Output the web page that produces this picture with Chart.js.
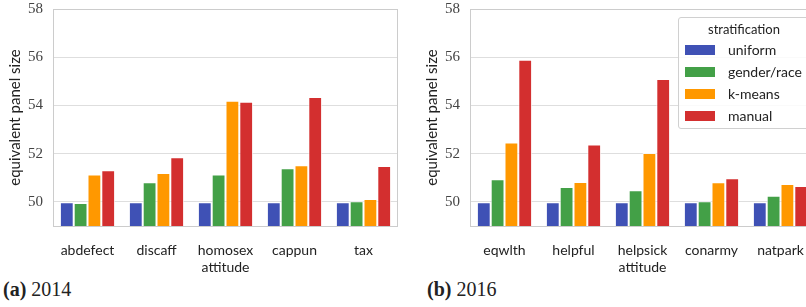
<!DOCTYPE html>
<html>
<head>
<meta charset="utf-8">
<script src="https://cdn.jsdelivr.net/npm/chart.js@4.4.0/dist/chart.umd.min.js"></script>
<style>
html, body { margin: 0; padding: 0; background: #fff; overflow: hidden; width: 806px; height: 307px; }
.panel { position: absolute; top: 0; }
#panelA { left: 0; }
#panelB { left: 417px; }
.caption { position: absolute; top: 278px; font-family: "Liberation Serif", "DejaVu Serif", serif; font-size: 20px; color: #222; }
#legend {
    position: absolute; left: 678px; top: 17px; width: 160px; height: 110px;
    border: 1px solid #d0d0d0; border-radius: 3px; background: rgba(255,255,255,0.85);
    font-family: Lato, sans-serif; font-size: 14px; color: #222;
}
#legend .title { position: absolute; left: 0; width: 130px; top: 3px; text-align: center; font-size: 13px; }
#legend .row { position: absolute; left: 6px; height: 16px; line-height: 16px; }
#legend .sw { position: absolute; left: 0; top: 3px; width: 30px; height: 10px; }
#legend .lbl { position: absolute; left: 43px; white-space: nowrap; }
</style>
</head>
<body>
<div class="panel" id="panelA"><canvas id="chartA" width="400" height="272"></canvas></div>
<div class="panel" id="panelB"><canvas id="chartB" width="400" height="272"></canvas></div>
<div class="caption" style="left:3px"><b>(a)</b> 2014</div>
<div class="caption" style="left:427px"><b>(b)</b> 2016</div>
<div id="legend"></div>
<script>
const methods = ["uniform", "gender/race", "k-means", "manual"];
const colors = ["#3f51b5", "#43a047", "#ff9800", "#d32f2f"];

const groups2014 = ["abdefect", "discaff", ["homosex", "attitude"], "cappun", "tax"];
const uniform2014 = [49.98, 49.98, 49.98, 49.98, 49.98];
const gender2014 = [49.95, 50.81, 51.14, 51.39, 50.03];
const kmeans2014 = [51.14, 51.2, 54.19, 51.52, 50.12];
const manual2014 = [51.31, 51.85, 54.15, 54.35, 51.49];

const groups2016 = ["eqwlth", "helpful", ["helpsick", "attitude"], "conarmy", "natpark"];
const uniform2016 = [49.98, 49.98, 49.98, 49.98, 49.98];
const gender2016 = [50.94, 50.62, 50.48, 50.03, 50.25];
const kmeans2016 = [52.46, 50.83, 52.03, 50.81, 50.74];
const manual2016 = [55.89, 52.38, 55.1, 50.98, 50.66];

const yTicks = [50, 52, 54, 56, 58];
const yMin = 49;
const yMax = 58;

const frame = {
    id: "frame",
    afterDatasetsDraw(chart) {
        const a = chart.chartArea;
        const ctx = chart.ctx;
        ctx.save();
        ctx.strokeStyle = "#cccccc";
        ctx.lineWidth = 1;
        ctx.strokeRect(Math.round(a.left) + 0.5, Math.round(a.top) + 0.5,
            Math.round(a.right - a.left) - 1, Math.round(a.bottom - a.top));
        ctx.restore();
    }
};

function makeChart(id, labels, series) {
    const ctx = document.getElementById(id).getContext("2d");
    return new Chart(ctx, {
        type: "bar",
        data: {
            labels: labels,
            datasets: series.map((vals, i) => ({
                label: methods[i],
                data: vals,
                backgroundColor: colors[i],
                borderColor: "rgba(255,255,255,0.75)",
                borderWidth: 1,
                categoryPercentage: 0.8,
                barPercentage: 1.0,
            })),
        },
        options: {
            responsive: false,
            animation: false,
            devicePixelRatio: 1,
            layout: { padding: { top: 9, right: 2, left: 0, bottom: 0 } },
            plugins: { legend: { display: false }, tooltip: { enabled: false } },
            scales: {
                x: {
                    grid: { display: false },
                    border: { display: false },
                    ticks: { padding: 8, maxRotation: 0, color: "#222", font: { family: "Lato", size: 14 } },
                    afterFit: (s) => { s.height = 46; },
                },
                y: {
                    min: yMin,
                    max: yMax,
                    afterBuildTicks: (s) => { s.ticks = yTicks.map((v) => ({ value: v })); },
                    grid: { color: "#dedede", lineWidth: 1, drawTicks: false },
                    border: { display: false },
                    ticks: { padding: 10, color: "#444", font: { family: "Liberation Serif", size: 15 } },
                    title: {
                        display: true,
                        text: "equivalent panel size",
                        color: "#222",
                        font: { family: "Lato", size: 15 },
                        padding: { top: 6, bottom: 0 },
                    },
                    afterFit: (s) => { s.width = 53; s.paddingTop = 0; s.paddingBottom = 0; },
                },
            },
        },
        plugins: [frame],
    });
}

makeChart("chartA", groups2014, [uniform2014, gender2014, kmeans2014, manual2014]);
makeChart("chartB", groups2016, [uniform2016, gender2016, kmeans2016, manual2016]);

const legendEl = document.getElementById("legend");
let html = '<div class="title">stratification</div>';
const rowTops = [24, 46, 68, 90];
methods.forEach((m, i) => {
    html += `<div class="row" style="top:${rowTops[i]}px"><span class="sw" style="background:${colors[i]}"></span><span class="lbl">${m}</span></div>`;
});
legendEl.innerHTML = html;
</script>
</body>
</html>
